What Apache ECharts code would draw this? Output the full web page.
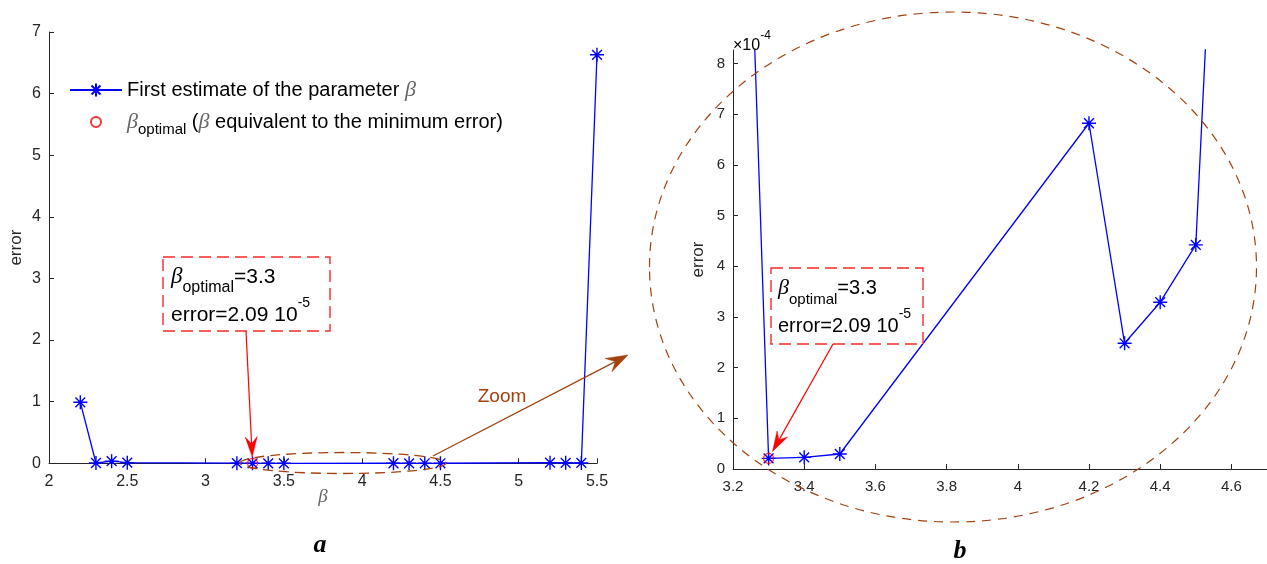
<!DOCTYPE html>
<html>
<head>
<meta charset="utf-8">
<script src="https://cdn.jsdelivr.net/npm/echarts@6/dist/echarts.min.js"></script>
<style>
  html, body { margin: 0; padding: 0; background: #fff; }
  #chart { width: 1267px; height: 564px; }
</style>
</head>
<body>
<div id="chart"></div>
<script>
// Tested values of the parameter beta and the error obtained for each
const beta = [2.2, 2.3, 2.4, 2.5, 3.2, 3.3, 3.4, 3.5, 4.2, 4.3, 4.4, 4.5, 5.2, 5.3, 5.4, 5.5];
const errorValues = [0.99, 0.005, 0.035, 0.01, 0.0021, 2.09e-5, 2.3e-5, 2.96e-5,
                     6.82e-4, 2.48e-4, 3.29e-4, 4.42e-4, 0.0105, 0.008, 0.006, 6.63];
// Minimum-error point
const betaOptimal = 3.3;
const errorOptimal = 2.09e-5;
// Scale factor of the zoomed panel (values shown in units of 1e-4)
const zoomExponent = -4;

// Axis ticks
const leftXTicks = [2, 2.5, 3, 3.5, 4, 4.5, 5, 5.5];
const leftYTicks = [0, 1, 2, 3, 4, 5, 6, 7];
const rightXTicks = [3.2, 3.4, 3.6, 3.8, 4, 4.2, 4.4, 4.6];
const rightYTicks = [0, 1, 2, 3, 4, 5, 6, 7, 8];

const SANS = '"Liberation Sans", Arial, Helvetica, sans-serif';
const GREEK = '"Liberation Serif", "DejaVu Serif", serif';
const AXIS_COLOR = '#262626';
const BLUE = '#0000FF';
const RED = '#FF0000';
const BOX_RED = '#F52A2A';
const BROWN = '#A3420F';

const scale = Math.pow(10, -zoomExponent);
const mainData = beta.map((b, i) => [b, errorValues[i]]);
const zoomData = beta.map((b, i) => [b, errorValues[i] * scale]);

// MATLAB-like asterisk marker (plus + cross)
const STAR = 'path://M0,-10L0,10M-10,0L10,0M-7,-7L7,7M-7,7L7,-7';
// legend icon: small open circle centred in the 52x16 legend slot
const LEGEND_CIRCLE = 'path://M0,0M52,16M21,8A5,5,0,1,1,31,8A5,5,0,1,1,21,8Z';

function axisPair(gridIndex, xMin, xMax, xInt, yMin, yMax, yInt, yName, yGap, labelSize) {
  const common = {
    gridIndex: gridIndex,
    axisLine: { show: true, onZero: false, lineStyle: { color: AXIS_COLOR, width: 1 } },
    axisTick: { show: true, inside: true, length: 5, lineStyle: { color: AXIS_COLOR } },
    axisLabel: { color: AXIS_COLOR, fontFamily: SANS, fontSize: labelSize, hideOverlap: false },
    splitLine: { show: false }
  };
  return {
    x: Object.assign({}, common, {
      type: 'value', min: xMin, max: xMax, interval: xInt,
      axisLabel: Object.assign({}, common.axisLabel, { margin: 10, showMaxLabel: gridIndex === 0 })
    }),
    y: Object.assign({}, common, {
      type: 'value', min: yMin, max: yMax, interval: yInt,
      name: yName, nameLocation: 'middle', nameRotate: 90, nameGap: yGap,
      nameTextStyle: { color: AXIS_COLOR, fontFamily: SANS, fontSize: 17 },
      axisLabel: Object.assign({}, common.axisLabel, { margin: 8, showMaxLabel: gridIndex === 0 })
    })
  };
}

const leftAxes = axisPair(0, leftXTicks[0], leftXTicks[leftXTicks.length - 1], 0.5,
                          leftYTicks[0], leftYTicks[leftYTicks.length - 1], 1, 'error', 24, 16);
const rightAxes = axisPair(1, rightXTicks[0], 4.7, 0.2,
                           rightYTicks[0], 8.265, 1, 'error', 26, 15);
leftAxes.x.name = 'β';
leftAxes.x.nameLocation = 'middle';
leftAxes.x.nameGap = 24;
leftAxes.x.nameMoveOverlap = false;
leftAxes.x.nameTextStyle = { color: '#666', fontFamily: GREEK, fontStyle: 'italic', fontSize: 19 };

const legendRich = {
  t: { fontFamily: SANS, fontSize: 20, color: '#000', lineHeight: 30, verticalAlign: 'middle' },
  g: { fontFamily: GREEK, fontStyle: 'italic', fontSize: 22, color: '#666', lineHeight: 30, verticalAlign: 'middle' },
  s: { fontFamily: SANS, fontSize: 15, color: '#000', lineHeight: 16, verticalAlign: 'bottom' }
};

const SERIES_MAIN = 'First estimate of the parameter β';
const SERIES_OPT = 'β_optimal (β equivalent to the minimum error)';

const option = {
  animation: false,
  backgroundColor: '#fff',
  grid: [
    { left: 49, top: 32, width: 548, height: 431.3 },
    { left: 733, top: 50, width: 536.25, height: 419 }
  ],
  xAxis: [leftAxes.x, rightAxes.x],
  yAxis: [leftAxes.y, rightAxes.y],
  legend: {
    data: [SERIES_MAIN, { name: SERIES_OPT, icon: LEGEND_CIRCLE }],
    orient: 'vertical',
    left: 69,
    top: 75,
    padding: 0,
    itemWidth: 52,
    itemHeight: 16,
    itemGap: 2,
    selectedMode: false,
    textStyle: { rich: legendRich, lineHeight: 30 },
    formatter: function (name) {
      if (name === SERIES_MAIN) {
        return '{t|First estimate of the parameter }{g|β}';
      }
      return '{g|β}{s|optimal}{t| (}{g|β}{t| equivalent to the minimum error)}';
    }
  },
  series: [
    {
      name: SERIES_MAIN, type: 'line', xAxisIndex: 0, yAxisIndex: 0,
      data: mainData, symbol: STAR, symbolSize: 14, showAllSymbol: true,
      lineStyle: { color: BLUE, width: 1.3 },
      itemStyle: { color: BLUE, borderColor: BLUE, borderWidth: 1.4 },
      z: 3
    },
    {
      name: SERIES_OPT, type: 'scatter', xAxisIndex: 0, yAxisIndex: 0,
      data: [[betaOptimal, errorOptimal]], symbol: 'circle', symbolSize: 10,
      symbolKeepAspect: true,
      itemStyle: { color: 'rgba(0,0,0,0)', borderColor: RED, borderWidth: 1.2 },
      z: 4
    },
    {
      name: SERIES_MAIN, type: 'line', xAxisIndex: 1, yAxisIndex: 1,
      data: zoomData, symbol: STAR, symbolSize: 14, showAllSymbol: true, clip: true,
      lineStyle: { color: BLUE, width: 1.3 },
      itemStyle: { color: BLUE, borderColor: BLUE, borderWidth: 1.4 },
      z: 3
    },
    {
      name: SERIES_OPT, type: 'scatter', xAxisIndex: 1, yAxisIndex: 1,
      data: [[betaOptimal, errorOptimal * scale]], symbol: 'circle', symbolSize: 10,
      symbolKeepAspect: true,
      itemStyle: { color: 'rgba(0,0,0,0)', borderColor: RED, borderWidth: 1.2 },
      z: 4
    }
  ]
};

const chart = echarts.init(document.getElementById('chart'), null, { renderer: 'canvas' });
chart.setOption(option);

// ---- annotations: boxes, arrows, zoom ellipses, captions ----
function arrowElems(x0, y0, x1, y1, color, len, hw, width) {
  const dx = x1 - x0, dy = y1 - y0, d = Math.hypot(dx, dy);
  const ux = dx / d, uy = dy / d, px = -uy, py = ux;
  const bx = x1 - ux * len, by = y1 - uy * len;
  const nx = x1 - ux * len * 0.65, ny = y1 - uy * len * 0.65;
  return [
    { type: 'line', shape: { x1: x0, y1: y0, x2: nx, y2: ny },
      style: { stroke: color, lineWidth: width }, z: 10 },
    { type: 'polygon', shape: { points: [[x1, y1], [bx + px * hw, by + py * hw], [nx, ny], [bx - px * hw, by - py * hw]] },
      style: { fill: color, stroke: color, lineWidth: 0.5 }, z: 10 }
  ];
}

function tipNear(pt, from, gap) {
  const dx = from[0] - pt[0], dy = from[1] - pt[1], d = Math.hypot(dx, dy);
  return [pt[0] + dx / d * gap, pt[1] + dy / d * gap];
}

function boxRich(size) {
  return {
    g: { fontFamily: GREEK, fontStyle: 'italic', fontSize: size + 2, color: '#666', lineHeight: 38, verticalAlign: 'middle' },
    t: { fontFamily: SANS, fontSize: size, color: '#111', lineHeight: 38, verticalAlign: 'middle' },
    s: { fontFamily: SANS, fontSize: Math.round(size * 0.75), color: '#111', lineHeight: 22, verticalAlign: 'bottom' },
    p: { fontFamily: SANS, fontSize: Math.round(size * 0.68), color: '#111', lineHeight: 20, verticalAlign: 'top' }
  };
}
const boxText = '{g|β}{s|optimal}{t|=' + betaOptimal + '}\n{t|error=' +
  (errorOptimal * 1e5).toFixed(2) + ' 10}{p|-5}';

function infoBox(x, y, w, h, size, padX) {
  return [
    { type: 'rect', shape: { x: x, y: y, width: w, height: h },
      style: { fill: '#fff', stroke: BOX_RED, lineWidth: 1.4, lineDash: [12, 6] }, z: 9 },
    { type: 'text', x: x + padX, y: y + 1,
      style: { text: boxText, rich: boxRich(size) }, z: 11 }
  ];
}

const optLeft = chart.convertToPixel({ gridIndex: 0 }, [betaOptimal, errorOptimal]);
const optRight = chart.convertToPixel({ gridIndex: 1 }, [betaOptimal, errorOptimal * scale]);
const leftFrom = [246, 331];
const rightFrom = [833, 344];
const leftTip = tipNear(optLeft, leftFrom, 6.5);
const rightTip = tipNear(optRight, rightFrom, 8);

const graphics = [].concat(
  infoBox(163, 257, 167, 74, 21, 8),
  arrowElems(leftFrom[0], leftFrom[1], leftTip[0], leftTip[1], RED, 20, 6, 1.2),
  infoBox(771, 268, 152, 76, 20, 7),
  arrowElems(rightFrom[0], rightFrom[1], rightTip[0], rightTip[1], RED, 20, 6, 1.2),
  [
    // small ellipse around the low-error region on panel a
    { type: 'ellipse', shape: { cx: 343, cy: 463, rx: 103, ry: 10.5 },
      style: { fill: null, stroke: BROWN, lineWidth: 1.3, lineDash: [10, 6] }, z: 8 },
    // large ellipse framing panel b
    { type: 'ellipse', shape: { cx: 953, cy: 267, rx: 303.5, ry: 255 },
      style: { fill: null, stroke: BROWN, lineWidth: 1.2, lineDash: [9, 7] }, z: 8 },
    { type: 'text', x: 502, y: 397,
      style: { text: 'Zoom', fontFamily: SANS, fontSize: 19, fill: BROWN, align: 'center', verticalAlign: 'middle' }, z: 11 },
    // exponent of panel b's y axis
    { type: 'text', x: 733, y: 30,
      style: { text: '{x|×10}{e|' + zoomExponent + '}',
        rich: {
          x: { fontFamily: SANS, fontSize: 16, color: AXIS_COLOR, lineHeight: 24, verticalAlign: 'bottom' },
          e: { fontFamily: SANS, fontSize: 12, color: AXIS_COLOR, lineHeight: 16, verticalAlign: 'top' }
        } }, z: 11 },
    // panel captions
    { type: 'text', x: 320, y: 545,
      style: { text: 'a', fontFamily: GREEK, fontStyle: 'italic', fontWeight: 'bold', fontSize: 26, fill: '#000', align: 'center', verticalAlign: 'middle' }, z: 11 },
    { type: 'text', x: 960, y: 551,
      style: { text: 'b', fontFamily: GREEK, fontStyle: 'italic', fontWeight: 'bold', fontSize: 26, fill: '#000', align: 'center', verticalAlign: 'middle' }, z: 11 }
  ],
  arrowElems(433, 456, 628, 355, BROWN, 22, 7.5, 1.3)
);

chart.setOption({ graphic: graphics });
</script>
</body>
</html>
